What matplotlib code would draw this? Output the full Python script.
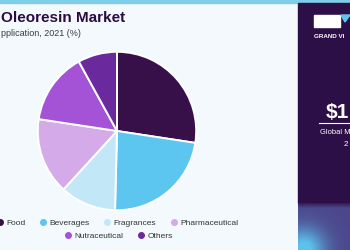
import numpy as np
import matplotlib
matplotlib.use("Agg")
import matplotlib.pyplot as plt
from matplotlib.lines import Line2D
from matplotlib.patches import Rectangle, Polygon

plt.rcParams["font.family"] = ["Liberation Sans", "DejaVu Sans"]

categories = ["Food", "Beverages", "Fragrances", "Pharmaceutical", "Nutraceutical", "Others"]
shares = [27.4, 23.0, 11.4, 15.6, 14.6, 8.0]
colors = ["#37104a", "#5cc6f0", "#c2e8f7", "#d4aae9", "#a452d6", "#6a2a9e"]

W, H = 350, 250
bg = "#f3f9fc"
dark = "#2d0f48"

fig = plt.figure(figsize=(3.5, 2.5), dpi=100, facecolor=bg)


def fx(px):
    return px / W


def fy(py):
    return 1 - py / H


# top band
fig.patches.append(Rectangle((0, fy(3)), 1, 3 / H, transform=fig.transFigure,
                             color="#7fcde9", zorder=-2))

# right panel
fig.patches.append(Rectangle((fx(298), fy(203)), 1 - fx(298), (200) / H,
                             transform=fig.transFigure, color=dark, zorder=-2))
gax = fig.add_axes([fx(298), 0, 1 - fx(298), 47 / H])
gx, gy = np.meshgrid(np.linspace(0, 1, 60), np.linspace(0, 1, 50))
glow = np.exp(-((gx - 0.1) ** 2 / 0.18 + (gy - 1.0) ** 2 / 0.22))
glow = np.clip(glow * 1.1, 0, 1)
top = np.clip(1 - gy / 0.1, 0, 1)
c0 = np.array([0.21, 0.12, 0.36])
c1 = np.array([0.30, 0.28, 0.55])
c2 = np.array([0.36, 0.76, 0.93])
img = c1[None, None, :] * (1 - glow[..., None]) + c2[None, None, :] * glow[..., None]
img = img * (1 - top[..., None]) + c0[None, None, :] * top[..., None]
gax.imshow(img, aspect="auto", extent=(0, 1, 0, 1), origin="upper")
gax.set_axis_off()

# logo
fig.patches.append(Rectangle((fx(314), fy(27)), 26 / W, 12 / H, transform=fig.transFigure,
                             color="white", zorder=2))
fig.patches.append(Polygon([(fx(341), fy(15)), (fx(350), fy(15)), (fx(345), fy(22))],
                           closed=True, transform=fig.transFigure, color="#5cc6f0", zorder=2))
fig.text(fx(314), fy(36), "GRAND VI", color="white", fontsize=4.5,
         fontweight="bold", va="center", ha="left")
fig.text(fx(326), fy(112), "$1", color="white", fontsize=15, fontweight="bold",
         va="center", ha="left")
fig.lines.append(Line2D([fx(319), 1], [fy(123), fy(123)], transform=fig.transFigure,
                        color="white", lw=0.8))
fig.text(fx(320), fy(133), "Global M", color="white", fontsize=5.4,
         va="center", ha="left")
fig.text(fx(344), fy(145), "2", color="white", fontsize=5.8, va="center", ha="left")

# titles
fig.text(fx(1), fy(18), "Oleoresin Market", color="#2a0b45", fontsize=11,
         fontweight="bold", va="center", ha="left")
fig.text(fx(1), fy(34), "pplication, 2021 (%)", color="#3a3a3a", fontsize=6.5,
         va="center", ha="left")

# pie
cx, cy, r = 117, 131, 80
ax = fig.add_axes([fx(cx - r), fy(cy + r), 2 * r / W, 2 * r / H])
ax.pie(shares, colors=colors, startangle=90, counterclock=False,
       wedgeprops=dict(edgecolor="white", linewidth=1.4))
ax.set_xlim(-1.01, 1.01)
ax.set_ylim(-1.01, 1.01)
ax.set_aspect("equal")
ax.set_axis_off()

# legend
handles = [Line2D([], [], marker="o", ls="", color=c, markersize=4) for c in colors]
fig.legend(handles[:4], categories[:4], loc="center", bbox_to_anchor=(fx(117), fy(223)),
           ncol=4, frameon=False, fontsize=6, handletextpad=0.3, columnspacing=1.6,
           handlelength=1, borderpad=0, labelcolor="#333333")
fig.legend(handles[4:], categories[4:], loc="center", bbox_to_anchor=(fx(118), fy(236)),
           ncol=2, frameon=False, fontsize=6, handletextpad=0.3, columnspacing=1.6,
           handlelength=1, borderpad=0, labelcolor="#333333")

fig.savefig("out.png", dpi=100, facecolor=bg)
